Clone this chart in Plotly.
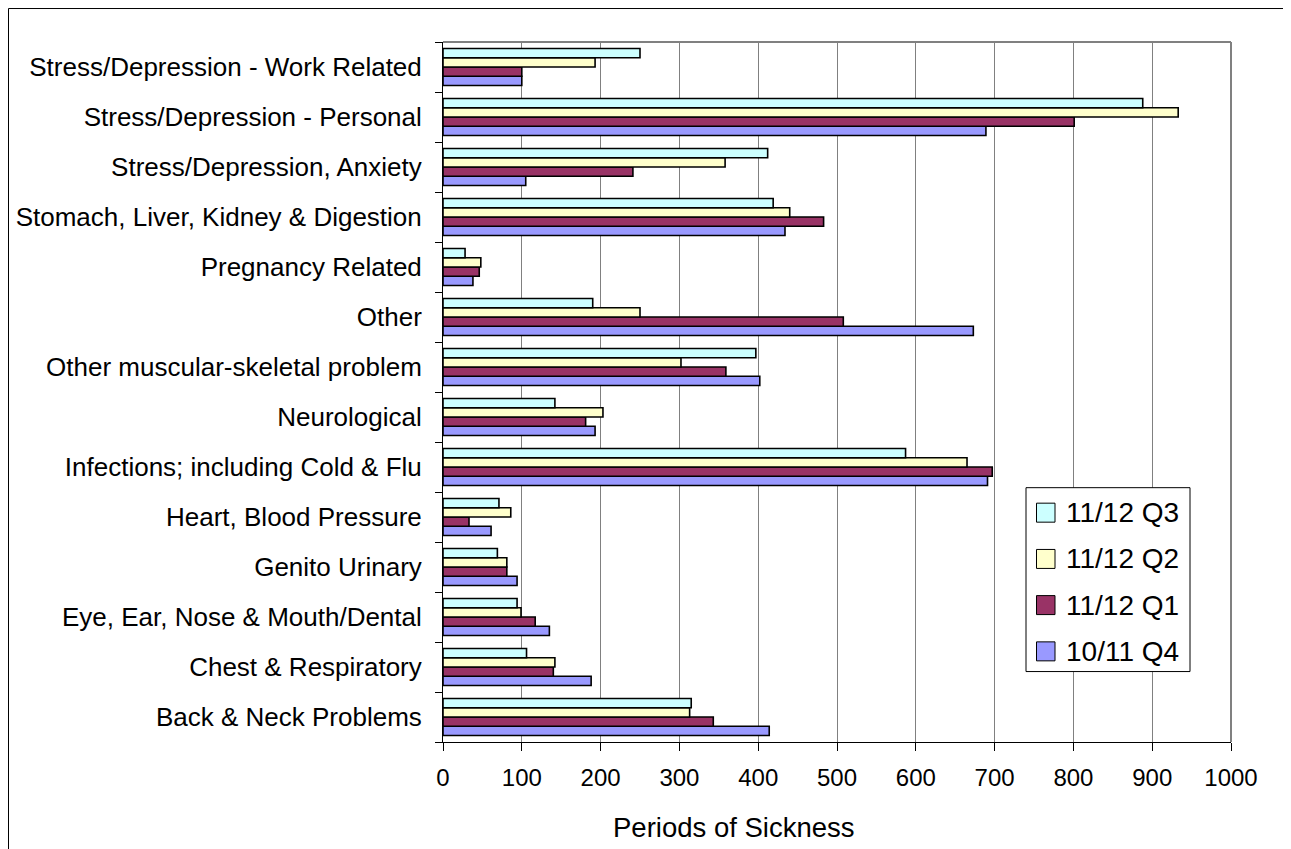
import plotly.graph_objects as go

categories = [
    "Stress/Depression - Work Related",
    "Stress/Depression - Personal",
    "Stress/Depression, Anxiety",
    "Stomach, Liver, Kidney & Digestion",
    "Pregnancy Related",
    "Other",
    "Other muscular-skeletal problem",
    "Neurological",
    "Infections; including Cold & Flu",
    "Heart, Blood Pressure",
    "Genito Urinary",
    "Eye, Ear, Nose & Mouth/Dental",
    "Chest & Respiratory",
    "Back & Neck Problems",
]
q3_1112 = [250, 888, 412, 419, 28, 190, 397, 142, 587, 71, 69, 94, 106, 315]
q2_1112 = [193, 933, 358, 440, 48, 250, 302, 203, 665, 86, 81, 99, 142, 313]
q1_1112 = [100, 801, 241, 483, 46, 508, 359, 181, 697, 33, 81, 117, 140, 343]
q4_1011 = [100, 689, 105, 434, 38, 673, 402, 193, 691, 61, 94, 135, 188, 414]

series_names = ["11/12 Q3", "11/12 Q2", "11/12 Q1", "10/11 Q4"]
series_values = [q3_1112, q2_1112, q1_1112, q4_1011]
series_colors = ["#CCFFFF", "#FFFFCC", "#993366", "#9999FF"]

x_ticks = [0, 100, 200, 300, 400, 500, 600, 700, 800, 900, 1000]

# page body has an 8px margin; lay out in screen coordinates minus that offset
OFF = 8
W, H = 1291 - OFF, 849 - OFF
PLOT_L, PLOT_R, PLOT_T, PLOT_B = 443, 1231, 42, 742.5  # screen px
L = PLOT_L - OFF
R = W - (PLOT_R - OFF)
T = PLOT_T - OFF
B = H - (PLOT_B - OFF)
PW, PH = PLOT_R - PLOT_L, PLOT_B - PLOT_T


def px(xs):
    return (xs - PLOT_L) / PW


def py(ys):
    return (PLOT_B - ys) / PH


FONT = "Liberation Sans, Arial, sans-serif"

cats_bottom_up = categories[::-1]

fig = go.Figure()
# plotly draws grouped horizontal bars from the bottom up, so add in reverse order
for name, vals, col in list(zip(series_names, series_values, series_colors))[::-1]:
    fig.add_trace(go.Bar(
        y=cats_bottom_up,
        x=vals[::-1],
        name=name,
        orientation="h",
        marker=dict(color=col, line=dict(color="black", width=1.6)),
        showlegend=False,
    ))

fig.update_layout(
    width=W, height=H,
    margin=dict(l=L, r=R, t=T, b=B, pad=0, autoexpand=False),
    paper_bgcolor="white",
    plot_bgcolor="white",
    barmode="group",
    bargap=0.26,
    bargroupgap=0,
    font=dict(family=FONT, color="black"),
)

fig.update_xaxes(
    range=[0, 1000],
    tickvals=x_ticks,
    ticktext=[str(v) for v in x_ticks],
    tickfont=dict(size=24, family=FONT),
    showgrid=True, gridcolor="#808080", gridwidth=1,
    zeroline=False,
    showline=True, linecolor="black", linewidth=1,
    ticks="outside", ticklen=8, tickcolor="black", tickwidth=1,
    ticklabelstandoff=6,
    automargin=False,
)
fig.update_yaxes(
    type="category",
    categoryorder="array", categoryarray=cats_bottom_up,
    tickfont=dict(size=26, family=FONT),
    showgrid=False,
    showline=True, linecolor="black", linewidth=1,
    ticks="outside", ticklen=7, tickcolor="black", tickwidth=1,
    tickson="boundaries",
    ticklabelstandoff=15,
    automargin=False,
)

shapes = []
# top and right plot borders (gray)
shapes.append(dict(type="line", xref="paper", yref="paper", x0=0, x1=1, y0=1, y1=1,
                   line=dict(color="#808080", width=2)))
shapes.append(dict(type="line", xref="paper", yref="paper", x0=1, x1=1, y0=0, y1=1,
                   line=dict(color="#808080", width=2)))
# outer chart border
shapes.append(dict(type="rect", xref="paper", yref="paper",
                   x0=px(8.5), x1=px(1330), y0=py(8.5), y1=py(890),
                   line=dict(color="black", width=1), fillcolor="rgba(0,0,0,0)", layer="below"))
# legend box
shapes.append(dict(type="rect", xref="paper", yref="paper",
                   x0=px(1026), x1=px(1190), y0=py(672), y1=py(488),
                   line=dict(color="black", width=1), fillcolor="white"))

annotations = []
legend_y = [513, 559.3, 605.5, 651.8]
for name, col, yc in zip(series_names, series_colors, legend_y):
    shapes.append(dict(type="rect", xref="paper", yref="paper",
                       x0=px(1036.5), x1=px(1055), y0=py(yc + 9.5), y1=py(yc - 9.5),
                       line=dict(color="black", width=1), fillcolor=col))
    annotations.append(dict(text=name, xref="paper", yref="paper", x=px(1064), y=py(yc),
                            xanchor="left", yanchor="middle", showarrow=False,
                            font=dict(size=28, family=FONT, color="black")))

annotations.append(dict(text="Periods of Sickness", xref="paper", yref="paper",
                        x=px(734), y=py(828), xanchor="center", yanchor="middle",
                        showarrow=False, font=dict(size=27.5, family=FONT, color="black")))

fig.update_layout(shapes=shapes, annotations=annotations)

fig.write_html("out.html")
